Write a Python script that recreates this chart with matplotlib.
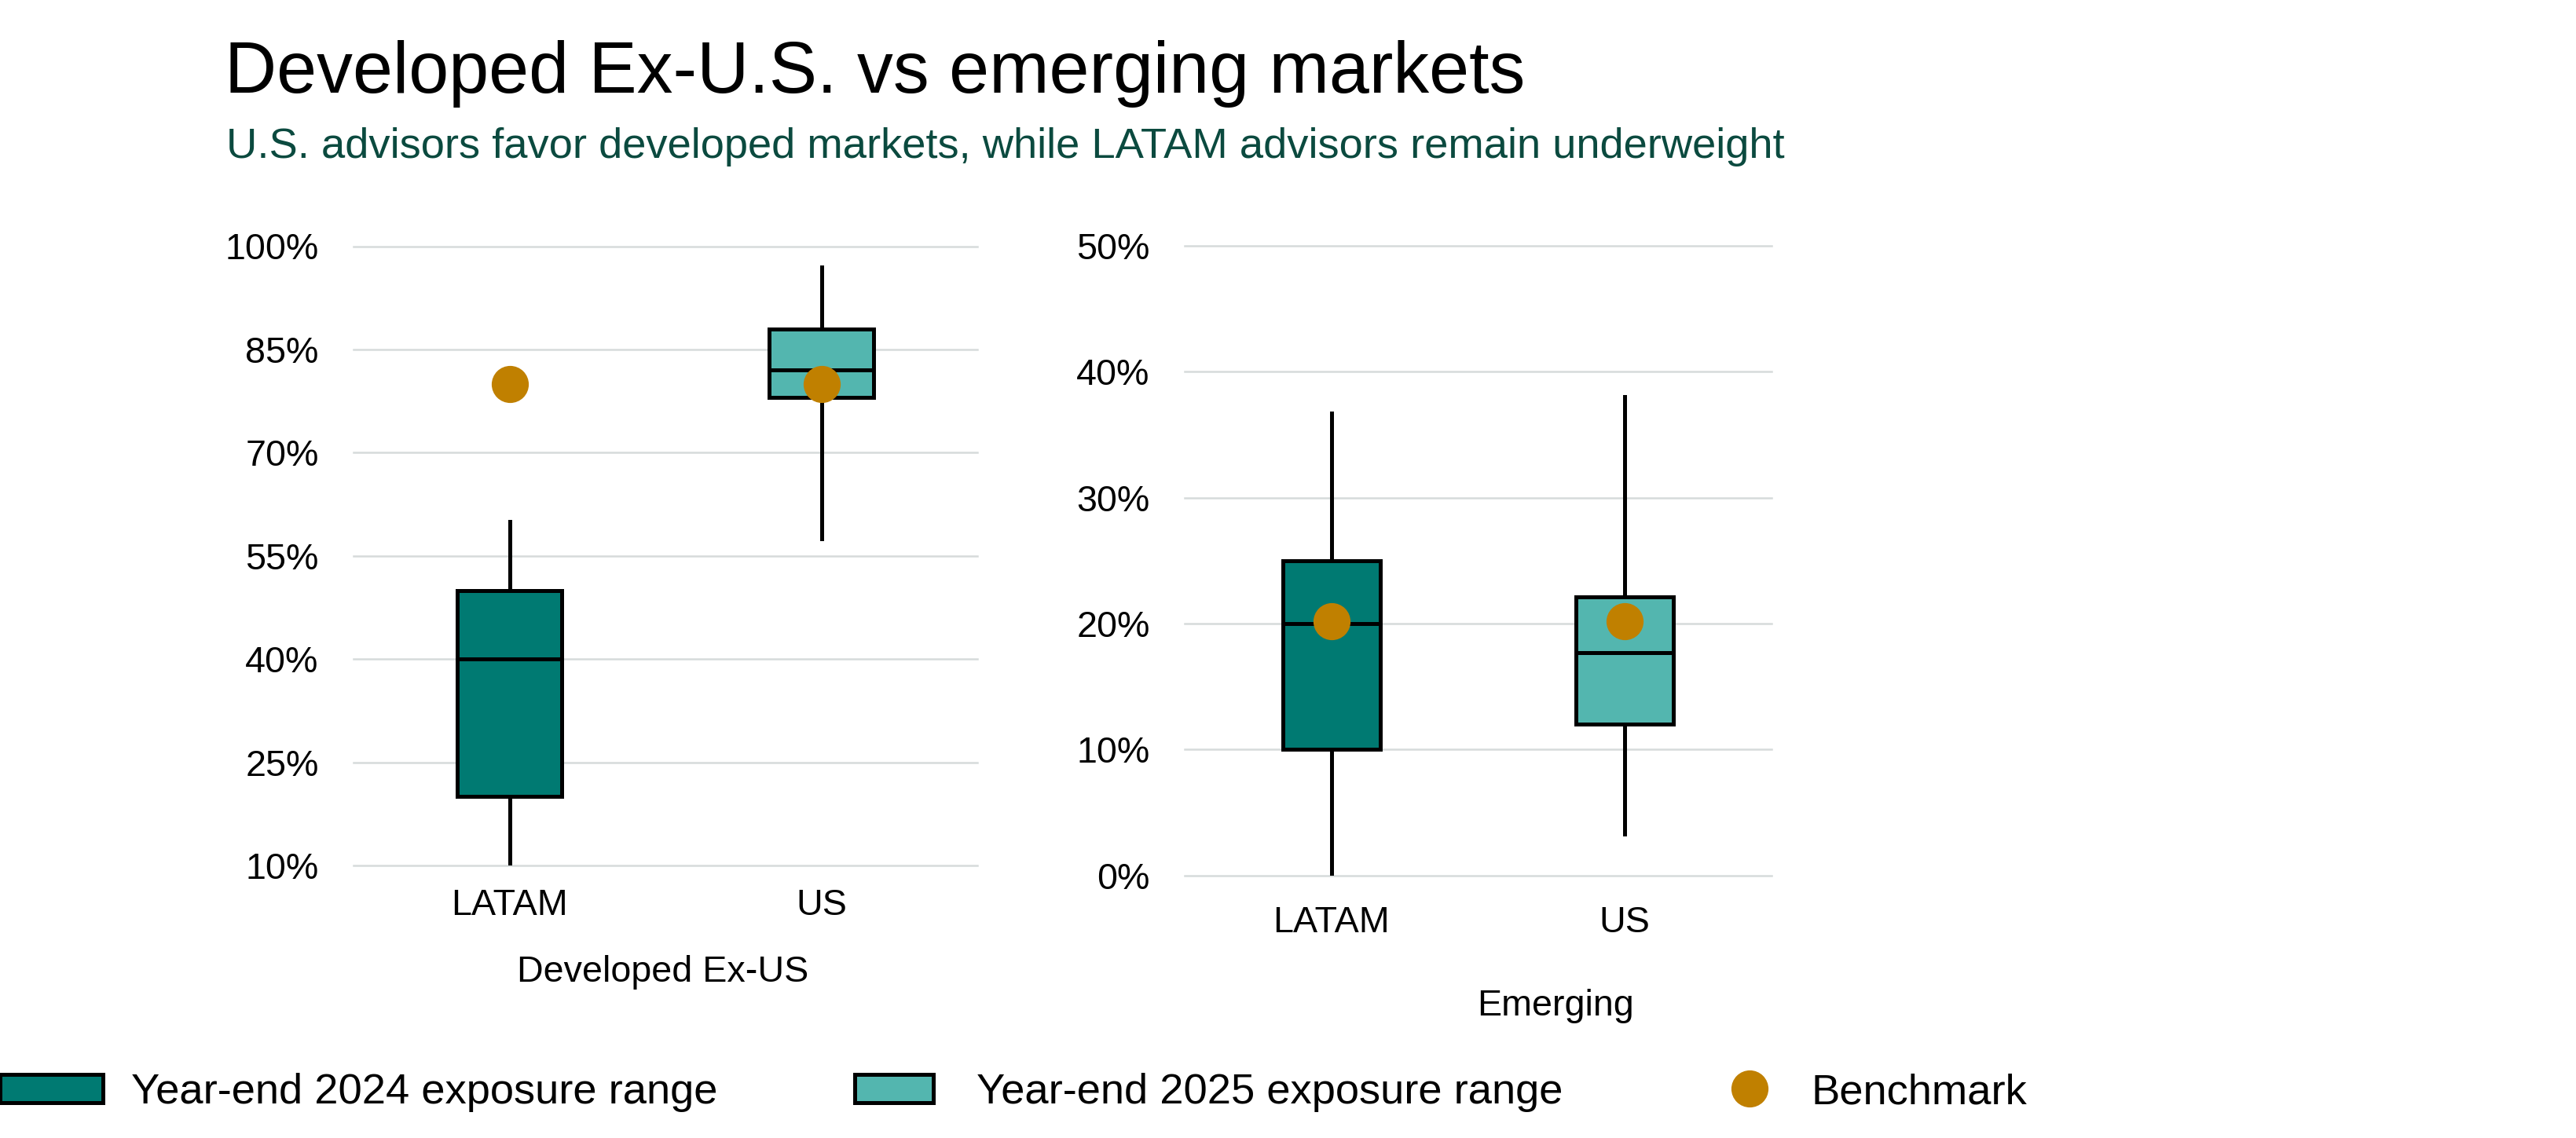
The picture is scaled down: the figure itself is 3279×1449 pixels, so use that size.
import matplotlib
matplotlib.use("Agg")
import matplotlib.pyplot as plt
from matplotlib.patches import Patch
from matplotlib.lines import Line2D
from matplotlib.ticker import FuncFormatter

plt.rcParams['font.family'] = ['Liberation Sans', 'DejaVu Sans']

# ---- data ----
groups = ["LATAM", "US"]

# Developed Ex-US (percent)
dev_whislo = [10, 57.5]
dev_q1 = [20, 78]
dev_med = [40, 82]
dev_q3 = [50, 88]
dev_whishi = [60, 97]
dev_bench = [80, 80]
dev_ticks = [10, 25, 40, 55, 70, 85, 100]

# Emerging (percent)
em_whislo = [0, 3.3]
em_q1 = [10, 12]
em_med = [20, 17.7]
em_q3 = [25, 22.1]
em_whishi = [36.7, 38]
em_bench = [20.2, 20.2]
em_ticks = [0, 10, 20, 30, 40, 50]

series_labels = ["Year-end 2024 exposure range", "Year-end 2025 exposure range", "Benchmark"]
panel_labels = ["Developed Ex-US", "Emerging"]

title = "Developed Ex-U.S. vs emerging markets"
subtitle = "U.S. advisors favor developed markets, while LATAM advisors remain underweight"

# ---- style ----
C_DARK = "#007A72"
C_LIGHT = "#53B6AF"
C_BENCH = "#C08000"
C_GRID = "#D6DBDB"
C_SUB = "#0B4A3F"
LW = 1.8
MS = 17
FS_TICK = 16.8
FS_LEG = 19.6

W, H = 3279, 1449
DPI = 200
fig = plt.figure(figsize=(W / DPI, H / DPI), dpi=DPI)

ax1 = fig.add_axes([450 / W, 1 - 1102 / H, 794 / W, (1102 - 313.5) / H])
ax2 = fig.add_axes([1508 / W, 1 - 1114.5 / H, 747 / W, (1114.5 - 313) / H])


def draw(ax, whislo, q1, med, q3, whishi, bench, ticks, xlabel, xpad):
    stats = []
    for i, g in enumerate(groups):
        stats.append(dict(label=g, whislo=whislo[i], q1=q1[i], med=med[i],
                          q3=q3[i], whishi=whishi[i], fliers=[]))
    bp = ax.bxp(stats, positions=range(len(groups)), widths=0.333,
                patch_artist=True, showcaps=False, showfliers=False,
                boxprops=dict(linewidth=LW, edgecolor="black"),
                medianprops=dict(color="black", linewidth=LW),
                whiskerprops=dict(color="black", linewidth=LW), zorder=3)
    for patch, c in zip(bp["boxes"], [C_DARK, C_LIGHT]):
        patch.set_facecolor(c)
    ax.plot(range(len(groups)), bench, linestyle="none", marker="o",
            markersize=MS, color=C_BENCH, markeredgewidth=0, zorder=5)
    ax.set_xlim(-0.5, 1.5)
    ax.set_ylim(ticks[0], ticks[-1])
    ax.set_yticks(ticks)
    ax.yaxis.set_major_formatter(FuncFormatter(lambda v, p: f"{v:.0f}%"))
    ax.set_xticks(range(len(groups)))
    ax.set_xticklabels(groups)
    for y in ticks:
        ax.axhline(y, color=C_GRID, linewidth=0.9, zorder=1, clip_on=False)
    for s in ax.spines.values():
        s.set_visible(False)
    ax.tick_params(axis="both", length=0, labelsize=FS_TICK, colors="black")
    ax.tick_params(axis="y", pad=16)
    ax.tick_params(axis="x", pad=xpad)
    ax.set_xlabel(xlabel, fontsize=FS_TICK, color="black")


draw(ax1, dev_whislo, dev_q1, dev_med, dev_q3, dev_whishi, dev_bench, dev_ticks, panel_labels[0], 10.5)
draw(ax2, em_whislo, em_q1, em_med, em_q3, em_whishi, em_bench, em_ticks, panel_labels[1], 14)
ax1.xaxis.set_label_coords(0.496, -0.144)
ax2.xaxis.set_label_coords(0.632, -0.18)

fig.text(286 / W, 1 - 118 / H, title, fontsize=33, color="black", va="baseline", ha="left")
fig.text(288 / W, 1 - 201 / H, subtitle, fontsize=19.6, color=C_SUB, va="baseline", ha="left")

# legend: three entries placed along the bottom
ly = 1 - 1391 / H
em = FS_LEG / 72 * DPI
leg_specs = [
    (Patch(facecolor=C_DARK, edgecolor="black", linewidth=LW), series_labels[0], 0, 131, 167),
    (Patch(facecolor=C_LIGHT, edgecolor="black", linewidth=LW), series_labels[1], 1088, 1188, 1243),
    (Line2D([], [], linestyle="none", marker="o", markersize=MS, color=C_BENCH, markeredgewidth=0),
     series_labels[2], 2200, 2254, 2306),
]
for h, lab, x0, x1, xt in leg_specs:
    lg = fig.legend([h], [lab], loc="center left", bbox_to_anchor=(x0 / W, ly),
                    frameon=False, fontsize=FS_LEG, handlelength=(x1 - x0) / em,
                    handleheight=0.66, handletextpad=(xt - x1) / em,
                    borderpad=0, borderaxespad=0)

fig.savefig("out.png", dpi=DPI)
